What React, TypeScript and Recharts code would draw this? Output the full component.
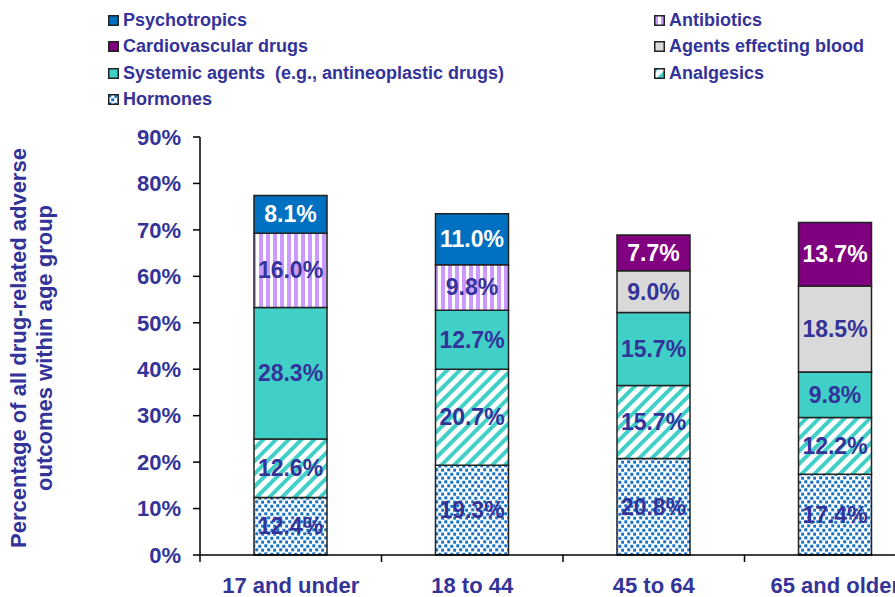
import { BarChart, Bar, XAxis, YAxis, Legend, LabelList } from 'recharts';

const CATEGORIES = ['17 and under', '18 to 44', '45 to 64', '65 and older'];
const HORMONES = [12.4, 19.3, 20.8, 17.4];
const ANALGESICS = [12.6, 20.7, 15.7, 12.2];
const SYSTEMIC = [28.3, 12.7, 15.7, 9.8];
const ANTIBIOTICS = [16.0, 9.8, null, null];
const BLOOD = [null, null, 9.0, 18.5];
const PSYCHOTROPICS = [8.1, 11.0, null, null];
const CARDIO = [null, null, 7.7, 13.7];
const Y_TICKS = [0, 10, 20, 30, 40, 50, 60, 70, 80, 90];

const data = CATEGORIES.map((age, i) => ({
  age,
  hormones: HORMONES[i],
  analgesics: ANALGESICS[i],
  systemic: SYSTEMIC[i],
  antibiotics: ANTIBIOTICS[i],
  blood: BLOOD[i],
  psychotropics: PSYCHOTROPICS[i],
  cardio: CARDIO[i],
}));

const FONT = '"Liberation Sans", Arial, sans-serif';
const NAVY = '#333399';
const TURQ = '#40D0C8';
const PSY_BLUE = '#0070C0';
const PURPLE = '#800080';
const LAVENDER = '#CC99FF';
const GREY = '#D9D9D9';
const DOT_BLUE = '#1573C6';

const SERIES = [
  { key: 'hormones', name: 'Hormones', fill: 'url(#pat-hormones)', text: NAVY },
  { key: 'analgesics', name: 'Analgesics', fill: 'url(#pat-analgesics)', text: NAVY },
  { key: 'systemic', name: 'Systemic agents  (e.g., antineoplastic drugs)', fill: TURQ, text: NAVY },
  { key: 'antibiotics', name: 'Antibiotics', fill: 'url(#pat-antibiotics)', text: NAVY },
  { key: 'blood', name: 'Agents effecting blood', fill: GREY, text: NAVY },
  { key: 'psychotropics', name: 'Psychotropics', fill: PSY_BLUE, text: '#FFFFFF' },
  { key: 'cardio', name: 'Cardiovascular drugs', fill: PURPLE, text: '#FFFFFF' },
];

const LEGEND_LEFT = ['psychotropics', 'cardio', 'systemic', 'hormones'];
const LEGEND_RIGHT = ['antibiotics', 'blood', 'analgesics'];

const CHART_W = 940;
const CHART_H = 597;
const MARGIN = { top: 137, right: 14, bottom: 12, left: 0 };
const Y_AXIS_W = 200;
const X_AXIS_H = 30;
const PLOT_BOTTOM = CHART_H - MARGIN.bottom - X_AXIS_H;
const BAND = (CHART_W - MARGIN.left - MARGIN.right - Y_AXIS_W) / CATEGORIES.length;

const makeLabel = (color: string) => (props: any) => {
  const { x, y, width, height, value } = props;
  if (value == null || value === 0) return null;
  return (
    <text
      x={Number(x) + Number(width) / 2}
      y={Number(y) + Number(height) / 2}
      textAnchor="middle"
      dominantBaseline="central"
      fill={color}
      fontSize={23}
      fontWeight="bold"
      fontFamily={FONT}
    >
      {Number(value).toFixed(1)}%
    </text>
  );
};

const XTick = (props: any) => {
  const { x, payload } = props;
  return (
    <g>
      <line x1={x - BAND / 2} x2={x - BAND / 2} y1={PLOT_BOTTOM} y2={PLOT_BOTTOM + 7} stroke="#000" strokeWidth={1.5} />
      <text
        x={x}
        y={PLOT_BOTTOM + 30}
        textAnchor="middle"
        dominantBaseline="central"
        fill={NAVY}
        fontSize={22}
        fontWeight="bold"
        fontFamily={FONT}
      >
        {payload.value}
      </text>
    </g>
  );
};

const YTitle = () => {
  const cy = (MARGIN.top + PLOT_BOTTOM) / 2 + 2;
  const lines = ['Percentage of all drug-related adverse', 'outcomes within age group'];
  return (
    <g>
      {lines.map((t, i) => (
        <text
          key={t}
          transform={`translate(${18 + i * 26},${cy}) rotate(-90)`}
          textAnchor="middle"
          dominantBaseline="central"
          fill={NAVY}
          fontSize={22}
          fontWeight="bold"
          fontFamily={FONT}
        >
          {t}
        </text>
      ))}
    </g>
  );
};

const LegendIcon = ({ fill }: { fill: string }) => (
  <svg width={11} height={11} style={{ display: 'block' }}>
    <rect x={0.75} y={0.75} width={9.5} height={9.5} fill={fill} stroke="#222" strokeWidth={1.5} />
  </svg>
);

const LegendBox = () => {
  const item = (key: string, left: number, row: number) => {
    const s = SERIES.find((d) => d.key === key)!;
    return (
      <div
        key={key}
        style={{
          position: 'absolute',
          left,
          top: 8 + row * 26.5,
          height: 24,
          display: 'flex',
          alignItems: 'center',
          gap: 4,
          whiteSpace: 'pre',
        }}
      >
        <LegendIcon fill={s.fill} />
        <span style={{ color: NAVY, fontFamily: FONT, fontWeight: 'bold', fontSize: 18 }}>{s.name}</span>
      </div>
    );
  };
  return (
    <div style={{ position: 'relative', width: 895, height: 115 }}>
      {LEGEND_LEFT.map((k, i) => item(k, 108, i))}
      {LEGEND_RIGHT.map((k, i) => item(k, 654, i))}
    </div>
  );
};

export default function App() {
  return (
    <div style={{ position: 'absolute', left: 0, top: 0, width: 895, height: 597, overflow: 'hidden', background: '#fff' }}>
      <BarChart width={CHART_W} height={CHART_H} data={data} margin={MARGIN} barSize={73}>
        <defs>
          <pattern id="pat-hormones" width="12" height="8" patternUnits="userSpaceOnUse">
            <rect width="12" height="8" fill="#fff" />
            <rect x="0.3" y="0.3" width="3" height="3" fill={DOT_BLUE} />
            <rect x="6.3" y="0.8" width="3" height="3" fill={DOT_BLUE} />
            <rect x="3.2" y="4.3" width="3" height="3" fill={DOT_BLUE} />
            <rect x="9.2" y="4.7" width="3" height="3" fill={DOT_BLUE} />
          </pattern>
          <pattern id="pat-analgesics" width="9" height="9" patternUnits="userSpaceOnUse" patternTransform="rotate(45)">
            <rect width="9" height="9" fill="#fff" />
            <rect x="0" y="0" width="4" height="9" fill={TURQ} />
          </pattern>
          <pattern id="pat-antibiotics" width="7" height="7" patternUnits="userSpaceOnUse">
            <rect width="7" height="7" fill="#fff" />
            <rect x="0" y="0" width="4" height="7" fill={LAVENDER} />
          </pattern>
        </defs>
        <Legend
          content={<LegendBox />}
          layout="horizontal"
          verticalAlign="middle"
          align="center"
          wrapperStyle={{ top: 0, left: 0, width: 895, height: 115 }}
        />
        <XAxis
          dataKey="age"
          height={X_AXIS_H}
          axisLine={{ stroke: '#000', strokeWidth: 1.5 }}
          tickLine={false}
          tick={<XTick />}
          interval={0}
        />
        <YAxis
          width={Y_AXIS_W}
          domain={[0, 90]}
          ticks={Y_TICKS}
          tickFormatter={(v: number) => `${v}%`}
          axisLine={{ stroke: '#000', strokeWidth: 1.5 }}
          tickLine={{ stroke: '#000', strokeWidth: 1.5 }}
          tickSize={7}
          tickMargin={12}
          tick={{ fill: NAVY, fontSize: 22, fontWeight: 'bold', fontFamily: FONT }}
          label={<YTitle />}
        />
        {SERIES.map((s) => (
          <Bar
            key={s.key}
            dataKey={s.key}
            name={s.name}
            stackId="a"
            fill={s.fill}
            stroke="#222"
            strokeWidth={1.5}
            isAnimationActive={false}
          >
            <LabelList dataKey={s.key} content={makeLabel(s.text)} />
          </Bar>
        ))}
      </BarChart>
    </div>
  );
}
